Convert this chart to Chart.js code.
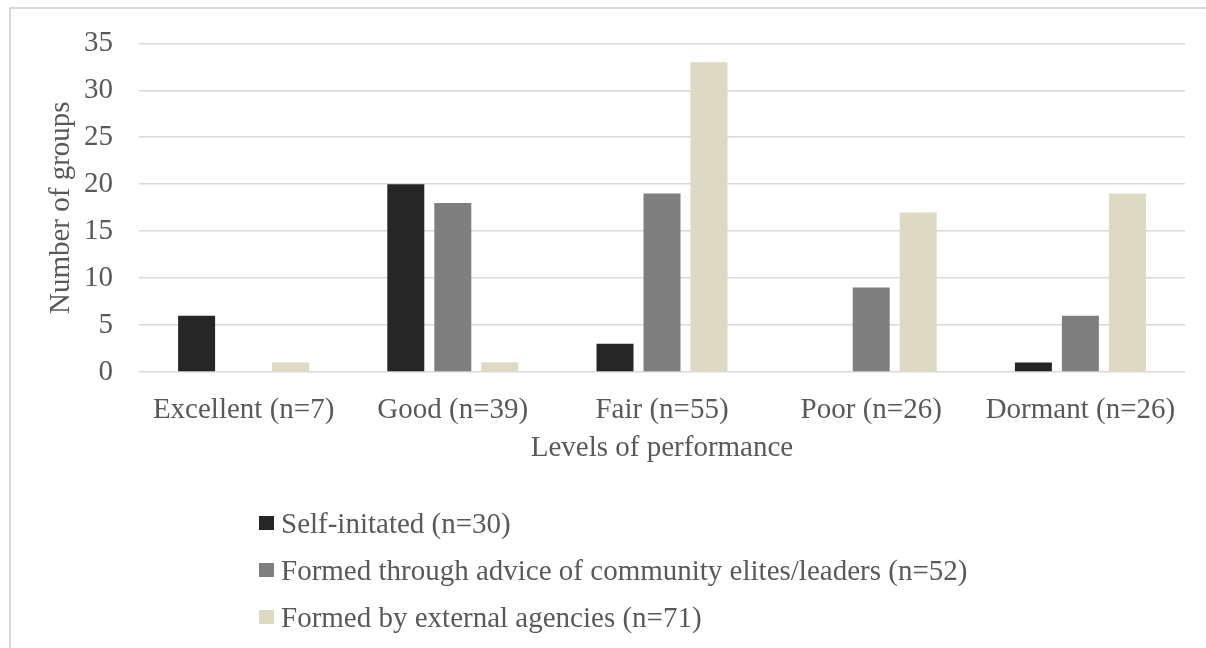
<!DOCTYPE html>
<html>
<head>
<meta charset="utf-8">
<script src="https://cdn.jsdelivr.net/npm/chart.js@4/dist/chart.umd.min.js"></script>
<style>
  html, body { margin: 0; padding: 0; background: #ffffff; overflow: hidden; }
  #wrap { position: relative; width: 1206px; height: 648px; overflow: hidden; background: #ffffff; }
  #frame { position: absolute; left: 9px; top: 7px; width: 1400px; height: 900px;
           border-top: 2px solid #d9d9d9; border-left: 2px solid #d9d9d9; box-sizing: border-box; }
  #chart { position: absolute; left: 0; top: 0; }
  #legend { position: absolute; left: 259px; top: 0; font-family: "Liberation Serif", "Times New Roman", serif;
            font-size: 29px; color: #595959; }
  .item { position: absolute; left: 0; white-space: nowrap; height: 34px; line-height: 34px; }
  .box { position: absolute; left: 0; top: 10px; width: 15px; height: 14px; }
  .txt { position: absolute; left: 22px; top: 0; }
</style>
</head>
<body>
<div id="wrap">
  <div id="frame"></div>
  <canvas id="chart" width="1206" height="648"></canvas>
  <div id="legend"></div>
</div>
<script>
// Performance levels of groups, by how each group was formed
const categories = ['Excellent (n=7)', 'Good (n=39)', 'Fair (n=55)', 'Poor (n=26)', 'Dormant (n=26)'];
const seriesNames = [
  'Self-initated (n=30)',
  'Formed through advice of community elites/leaders (n=52)',
  'Formed by external agencies (n=71)'
];
const selfInitiated = [6, 20, 3, 0, 1];
const eliteAdvised = [0, 18, 19, 9, 6];
const externalAgencies = [1, 1, 33, 17, 19];
const seriesColors = ['#262626', '#7f7f7f', '#ddd9c3'];
const yMin = 0, yMax = 35, yStep = 5;

const serif = '"Liberation Serif", "Times New Roman", serif';
const textColor = '#595959';

const seriesValues = [selfInitiated, eliteAdvised, externalAgencies];
const datasets = seriesNames.map((name, i) => ({
  label: name,
  data: seriesValues[i],
  backgroundColor: seriesColors[i],
  borderWidth: 0,
  categoryPercentage: 0.674,
  barPercentage: 0.787
}));

const chart = new Chart(document.getElementById('chart'), {
  type: 'bar',
  data: { labels: categories, datasets },
  options: {
    responsive: false,
    devicePixelRatio: 1,
    animation: false,
    layout: { padding: { left: 44, right: 21, top: 38, bottom: 182 } },
    plugins: { legend: { display: false }, tooltip: { enabled: false } },
    scales: {
      x: {
        grid: { display: false, drawTicks: false },
        border: { display: false },
        ticks: { color: textColor, font: { family: serif, size: 29 }, padding: 21, maxRotation: 0, autoSkip: false },
        title: { display: true, text: 'Levels of performance', color: textColor,
                 font: { family: serif, size: 29 }, padding: 0 },
        afterFit: s => { s.height = 94; }
      },
      y: {
        min: yMin, max: yMax,
        grid: { color: '#d9d9d9', lineWidth: 1.6, drawTicks: false },
        border: { display: false },
        ticks: { stepSize: yStep, color: textColor, font: { family: serif, size: 29 }, padding: 26 },
        title: { display: true, text: 'Number of groups', color: textColor,
                 font: { family: serif, size: 29 }, padding: 0 },
        afterFit: s => { s.width = 95; }
      }
    }
  }
});

// Vertical legend built from the chart's datasets
const legendEl = document.getElementById('legend');
const rowCenters = [523, 570, 617];
chart.data.datasets.forEach((ds, i) => {
  const item = document.createElement('div');
  item.className = 'item';
  item.style.top = (rowCenters[i] - 17) + 'px';
  const box = document.createElement('span');
  box.className = 'box';
  box.style.background = ds.backgroundColor;
  const txt = document.createElement('span');
  txt.className = 'txt';
  txt.textContent = ds.label;
  item.appendChild(box);
  item.appendChild(txt);
  legendEl.appendChild(item);
});
</script>
</body>
</html>
